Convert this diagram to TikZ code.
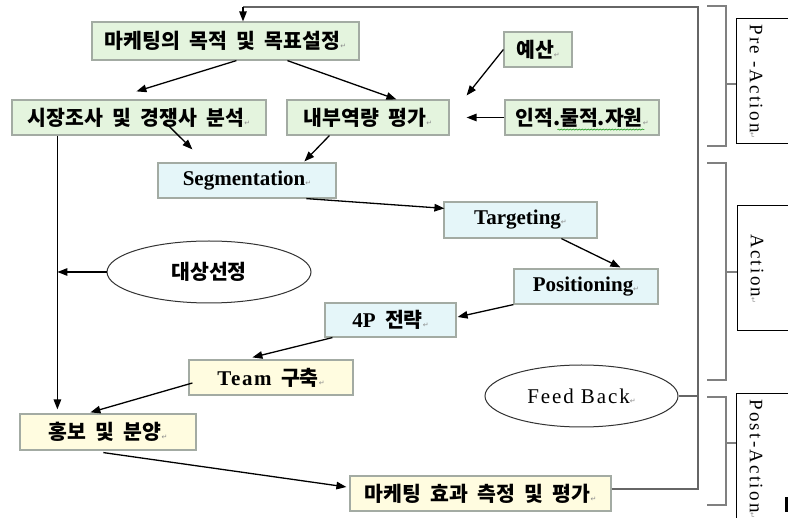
\documentclass[tikz,border=0pt]{standalone}
\usepackage{fontspec}
\setmainfont{Liberation Serif}
\newfontfamily\kr{Noto Sans CJK KR}[WordSpace=2.0]
\newfontfamily\symf{DejaVu Sans}
\usetikzlibrary{arrows.meta,shapes.geometric,calc,decorations.pathmorphing}
\definecolor{gfill}{HTML}{E4F4DE}
\definecolor{cfill}{HTML}{E5F6F9}
\definecolor{yfill}{HTML}{FFFCE0}
\definecolor{boxline}{HTML}{A3ABA3}
\newcommand{\parmark}{{\symf\mdseries\fontsize{7}{7}\selectfont\color{black!45}↵}}
\newcommand{\enf}{\rmfamily\bfseries\fontsize{21}{24}\selectfont}
\newcommand{\kof}{\kr\bfseries\fontsize{20.5}{23}\selectfont}
\begin{document}
\begin{tikzpicture}[x=1pt,y=-1pt,
  box/.style={draw=boxline, line width=1.2pt, inner sep=0pt},
  gbox/.style={box, fill=gfill},
  cbox/.style={box, fill=cfill},
  ybox/.style={box, fill=yfill},
  ko/.style={font=\kof},
  en/.style={font=\enf},
  arr/.style={-{Triangle[length=10pt,width=7.5pt]}, line width=1.3pt, black},
  oval/.style={ellipse, draw=black!80, line width=1pt, fill=white, inner sep=0pt},
  grayline/.style={draw=black!60, line width=1.5pt},
  brk/.style={draw=black!50, line width=1.5pt},
  side/.style={draw=black, line width=1pt, fill=white, inner sep=0pt},
  vt/.style={rotate=-90, inner sep=0pt, font=\rmfamily\fontsize{19}{22}\selectfont\addfontfeature{LetterSpace=12}}
]
\useasboundingbox (0,0) rectangle (788,518);
\fill[white] (0,0) rectangle (788,518);

% boxes
\node[gbox, ko, minimum width=267, minimum height=38] (b1) at (225.5,41) {마케팅의 목적 및 목표설정\parmark};
\node[gbox, ko, minimum width=254, minimum height=35] (b2) at (139,117.5) {시장조사 및 경쟁사 분석\parmark};
\node[gbox, ko, minimum width=162, minimum height=35] (b3) at (368,117.5) {내부역량 평가\parmark};
\node[gbox, ko, minimum width=68, minimum height=35] (b4) at (538,49.5) {예산\parmark};
\node[gbox, ko, minimum width=154, minimum height=35] (b5) at (582,117.5) {인적.물적.자원\parmark};
\node[cbox, en, minimum width=178, minimum height=35] (seg) at (247,180.5) {Segmentation\parmark};
\node[cbox, en, minimum width=153, minimum height=36] (tgt) at (520.5,220) {Targeting\parmark};
\node[cbox, en, minimum width=144, minimum height=35] (pos) at (586,286.5) {Positioning\parmark};
\node[cbox, ko, minimum width=131, minimum height=34] (p4) at (390.5,320) {{\enf 4P} 전략\parmark};
\node[ybox, ko, minimum width=164, minimum height=35] (team) at (271,377.5) {{\enf\addfontfeature{LetterSpace=8}Team} 구축\parmark};
\node[ybox, ko, minimum width=176, minimum height=36] (hong) at (108,432) {홍보 및 분양\parmark};
\node[ybox, ko, minimum width=261, minimum height=35] (eff) at (480.5,493.5) {마케팅 효과 측정 및 평가\parmark};

\node[oval, ko, minimum width=204, minimum height=62] (tsel) at (209,272) {대상선정};
\node[oval, font=\rmfamily\fontsize{21}{24}\selectfont\addfontfeature{LetterSpace=9}, minimum width=193, minimum height=62] (fb) at (581.5,396) {Feed Back\parmark};

% side boxes
\node[side, anchor=north west, minimum width=70, minimum height=125] (pre) at (736,18) {};
\node[side, anchor=north west, minimum width=70, minimum height=125] (act) at (737,205) {};
\node[side, anchor=north west, minimum width=70, minimum height=130] (post) at (736,393) {};
\node[vt, anchor=west] (pret) at (756,24) {Pre -Action\parmark};
\node[vt, anchor=west] (actt) at (757,234) {Action\parmark};
\node[vt, anchor=west] (postt) at (756,399) {Post-Action\parmark};

% brackets
\draw[brk] (707,6) -- (726,6) -- (726,146) -- (707,146);
\draw[brk] (726,84) -- (pre.west |- 0,84);
\draw[brk] (707,163) -- (726,163) -- (726,380) -- (707,380);
\draw[brk] (726,272) -- (act.west |- 0,272);
\draw[brk] (707,397) -- (726,397) -- (726,505) -- (707,505);
\draw[brk] (726,443) -- (post.west |- 0,443);

% feedback loop
\coordinate (fbB) at (698,489);
\coordinate (fbT) at (698,7);
\coordinate (fbL) at (243,7);
\draw[grayline] (eff.east |- fbB) -- (fbB) -- (fbT) -- (fbL);
\draw[arr] (fbL) -- (fbL |- b1.north);
\draw[grayline] (fb.east) -- (fb.east -| fbB);

% arrows
\draw[arr] ($(b1.south west)+(145,0)$) -- ($(b2.north west)+(125,-8)$);
\draw[arr] ($(b1.south west)+(196,0)$) -- ($(b3.north west)+(110,0)$);
\draw[arr] (b4.west) -- ($(b3.east)+(17,-22)$);
\draw[arr] (b5.west) -- ($(b3.east)+(17,0)$);
\draw[arr] ($(b2.south west)+(154,-13)$) -- ($(seg.north west)+(35,-13)$);
\draw[arr] ($(b3.south west)+(43,0)$) -- ($(seg.north west)+(147,-1)$);
\draw[arr] ($(seg.south west)+(149,0)$) -- ($(tgt.north west)+(1,7)$);
\draw[arr] ($(tgt.south west)+(118,0)$) -- ($(pos.north west)+(107,-1)$);
\draw[arr] (pos.south west) -- ($(p4.east)+(1,-3)$);
\draw[arr] ($(p4.south west)+(8,0)$) -- ($(team.north west)+(64,-2)$);
\draw[arr] ($(team.west)+(4,5.5)$) -- ($(hong.north west)+(71,-1)$);
\draw[arr] ($(hong.south west)+(84,2)$) -- ($(eff.west)+(-3,-6.5)$);
\coordinate (vtop) at ($(b2.south west)+(46,0)$);
\draw[arr] (vtop) -- ($(hong.north west)+(38,-4)$);
\draw[arr] (tsel.west) -- (tsel.west -| vtop);

% grammar underline
\draw[green!55!black, line width=0.5pt, decorate, decoration={snake,amplitude=0.6pt,segment length=3pt}] ($(b5.south west)+(53,-6)$) -- ($(b5.south west)+(140,-6)$);
\fill[black] (785,497) rectangle (788,512);
\end{tikzpicture}
\end{document}
